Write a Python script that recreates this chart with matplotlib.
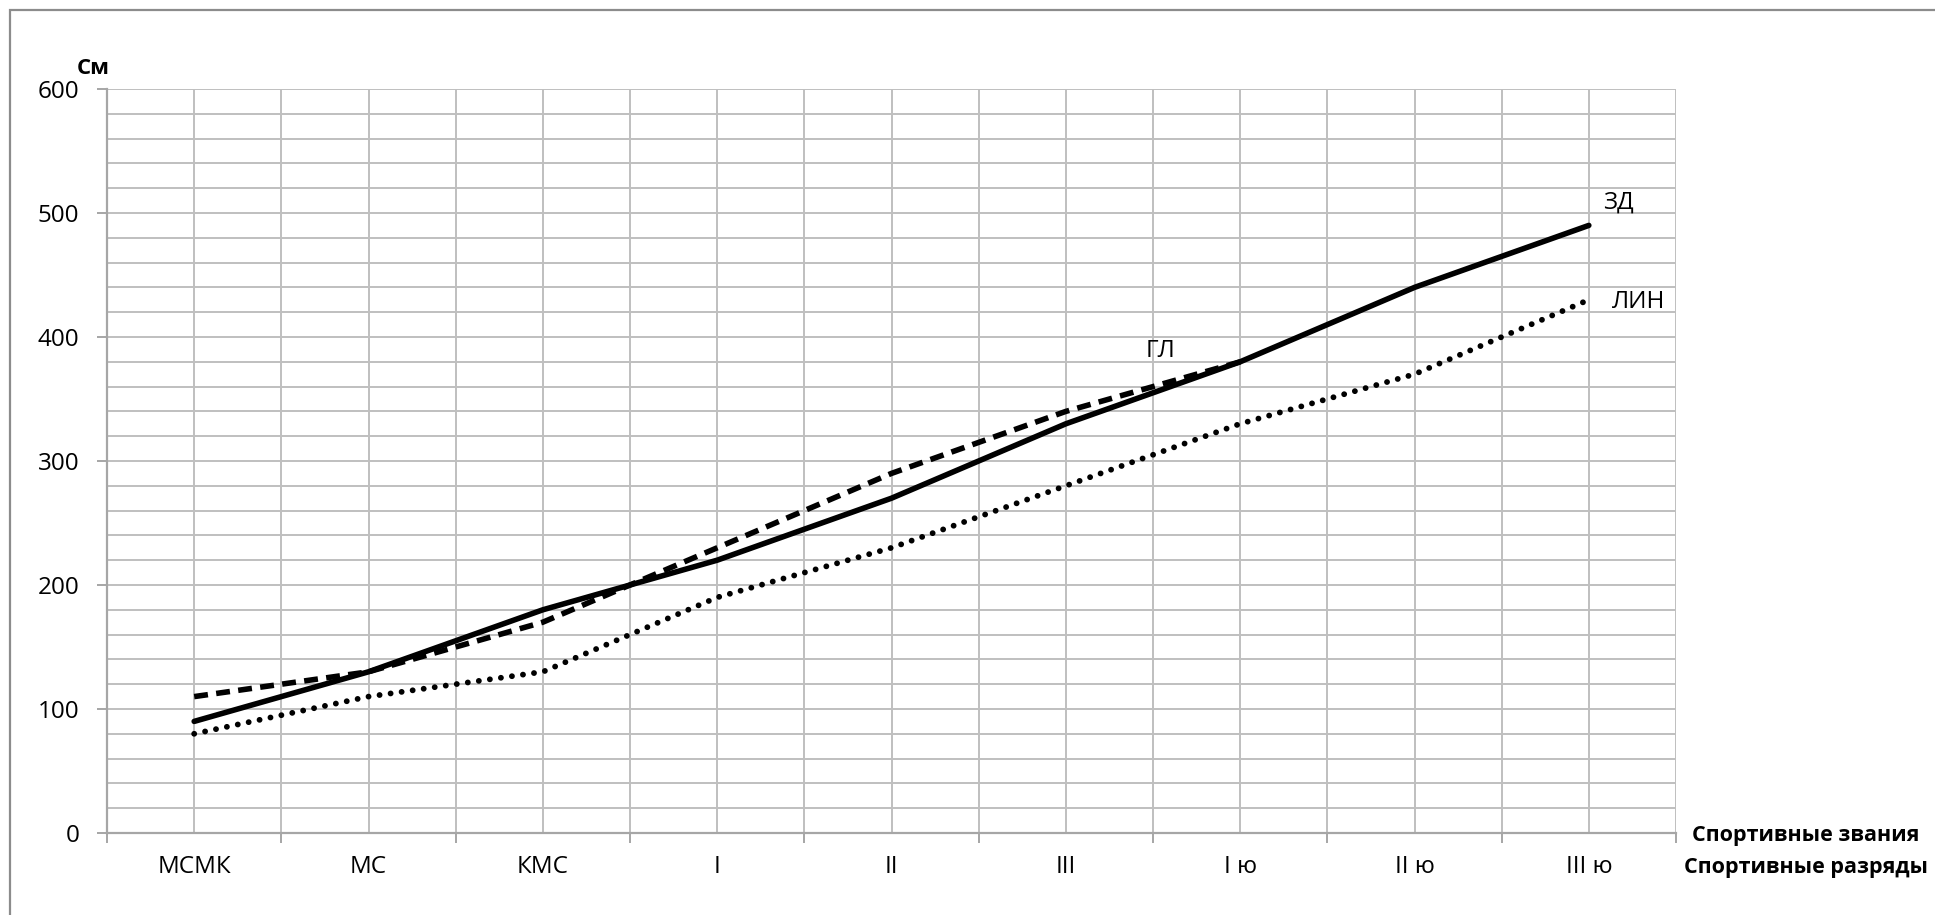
import matplotlib
matplotlib.use("Agg")
import matplotlib.pyplot as plt
from matplotlib.patches import Rectangle
import numpy as np

plt.rcParams['font.family'] = ['Open Sans', 'DejaVu Sans']

categories = ["МСМК", "МС", "КМС", "I", "II", "III", "I ю", "II ю", "III ю"]
zd = [90, 130, 180, 220, 270, 330, 380, 440, 490]
gl = [110, 130, 170, 230, 290, 340, 380]
lin = [80, 110, 130, 190, 230, 280, 330, 370, 430]

W, H = 1935, 915
fig = plt.figure(figsize=(W / 100, H / 100), dpi=100)
ax = fig.add_axes([107 / W, 1 - 833 / H, (1676 - 107) / W, (833 - 89) / H])

grid_c = '#bfbfbf'
x = np.arange(len(categories)) + 0.5
fs = 17.5

ax.plot(x, zd, color='black', lw=4.0, solid_capstyle='round', zorder=3)
ax.plot(x[:len(gl)], gl, color='black', lw=4.0, dashes=(2.5, 1.5), dash_capstyle='butt', zorder=3)
ax.plot(x, lin, color='black', lw=4.2, dashes=(0.01, 1.9), dash_capstyle='round', zorder=3)

ax.set_xlim(0, len(categories))
ax.set_ylim(0, 600)
ax.set_xticks(x)
ax.set_xticklabels(categories)
ax.set_xticks(np.arange(len(categories) + 1), minor=True)
ax.set_yticks(np.arange(0, 601, 100))
ax.set_yticks(np.arange(0, 601, 20), minor=True)

ax.grid(True, which='both', color=grid_c, lw=1.4, zorder=0)
ax.set_axisbelow(True)
ax.tick_params(axis='x', which='major', length=0, pad=16, labelsize=fs)
ax.tick_params(axis='x', which='minor', length=7, width=1.4, color='#a6a6a6', direction='out')
ax.tick_params(axis='y', which='major', length=7, width=1.4, color='#a6a6a6', pad=13, labelsize=fs)
ax.tick_params(axis='y', which='minor', length=0)
for s in ['top', 'right']:
    ax.spines[s].set_visible(False)
for s in ['left', 'bottom']:
    ax.spines[s].set_color('#a6a6a6')
    ax.spines[s].set_linewidth(1.6)

ax.text(8.58, 508, "ЗД", fontsize=fs, ha='left', va='center')
ax.text(8.63, 428, "ЛИН", fontsize=fs, ha='left', va='center')
ax.text(5.955, 389, "ГЛ", fontsize=fs, ha='left', va='center')

fig.text(93 / W, 1 - 68 / H, "См", fontsize=16, fontweight='bold', ha='center', va='center')
fig.text(1806 / W, 1 - 835 / H, "Спортивные звания", fontsize=15.5, fontweight='bold', ha='center', va='center')
fig.text(1806 / W, 1 - 868 / H, "Спортивные разряды", fontsize=15.5, fontweight='bold', ha='center', va='center')

fig.patches.append(Rectangle((10 / W, -0.1), 1.2, 1 - 10 / H + 0.1, transform=fig.transFigure,
                             fill=False, edgecolor='#8c8c8c', lw=1.6))

fig.savefig("out.png", dpi=100)
